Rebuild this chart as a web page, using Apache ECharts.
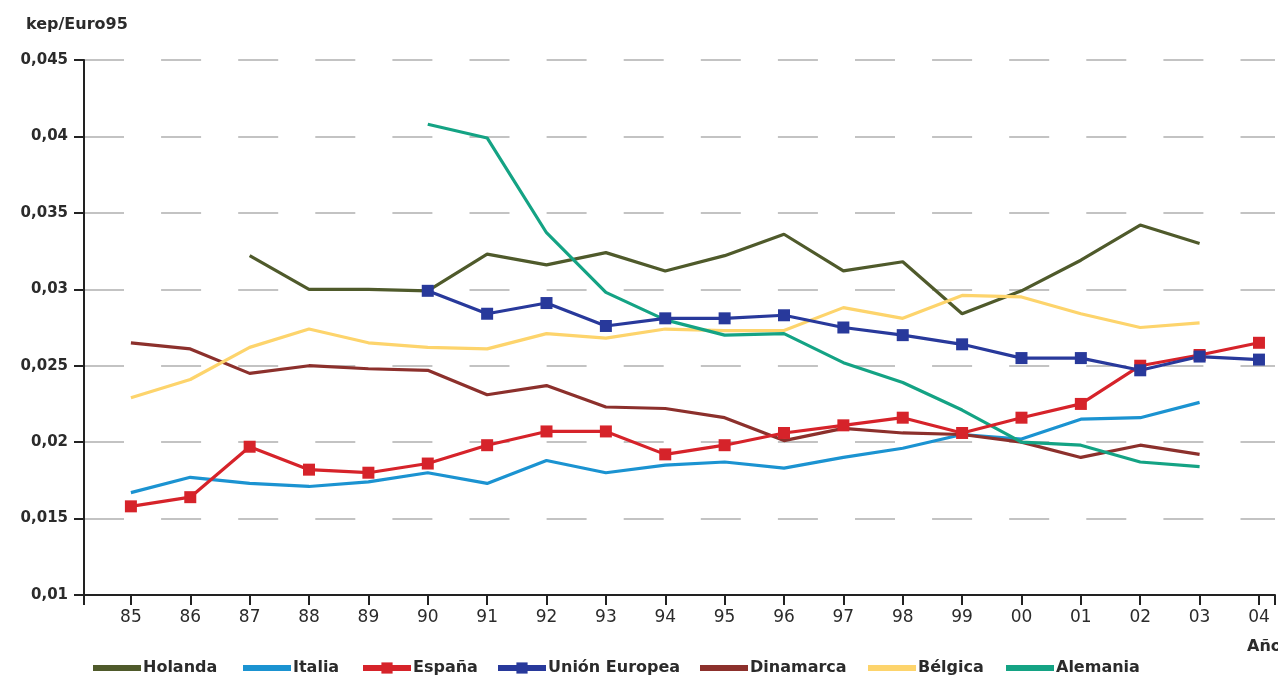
<!DOCTYPE html>
<html>
<head>
<meta charset="utf-8">
<script src="https://cdn.jsdelivr.net/npm/echarts@6/dist/echarts.min.js"></script>
<style>
html,body{margin:0;padding:0;background:#fff;}
#chart{width:1278px;height:681px;}
</style>
</head>
<body>
<div id="chart"></div>
<script>
const years = [1985,1986,1987,1988,1989,1990,1991,1992,1993,1994,1995,1996,1997,1998,1999,2000,2001,2002,2003,2004];
const yearLabels = ['85','86','87','88','89','90','91','92','93','94','95','96','97','98','99','00','01','02','03','04'];

const holanda   = [null,null,0.0322,0.0300,0.0300,0.0299,0.0323,0.0316,0.0324,0.0312,0.0322,0.0336,0.0312,0.0318,0.0284,0.0299,0.0319,0.0342,0.0330,null];
const italia    = [0.0167,0.0177,0.0173,0.0171,0.0174,0.0180,0.0173,0.0188,0.0180,0.0185,0.0187,0.0183,0.0190,0.0196,0.0205,0.0202,0.0215,0.0216,0.0226,null];
const espana    = [0.0158,0.0164,0.0197,0.0182,0.0180,0.0186,0.0198,0.0207,0.0207,0.0192,0.0198,0.0206,0.0211,0.0216,0.0206,0.0216,0.0225,0.0250,0.0257,0.0265];
const unionEur  = [null,null,null,null,null,0.0299,0.0284,0.0291,0.0276,0.0281,0.0281,0.0283,0.0275,0.0270,0.0264,0.0255,0.0255,0.0247,0.0256,0.0254];
const dinamarca = [0.0265,0.0261,0.0245,0.0250,0.0248,0.0247,0.0231,0.0237,0.0223,0.0222,0.0216,0.0201,0.0209,0.0206,0.0205,0.0200,0.0190,0.0198,0.0192,null];
const belgica   = [0.0229,0.0241,0.0262,0.0274,0.0265,0.0262,0.0261,0.0271,0.0268,0.0274,0.0273,0.0273,0.0288,0.0281,0.0296,0.0295,0.0284,0.0275,0.0278,null];
const alemania  = [null,null,null,null,null,0.0408,0.0399,0.0337,0.0298,0.0280,0.0270,0.0271,0.0252,0.0239,0.0221,0.0200,0.0198,0.0187,0.0184,null];

const seriesDefs = [
  {name:'Holanda', data:holanda, color:'#4f5a2b', marker:false, legendLeft:90},
  {name:'Italia', data:italia, color:'#1b93d1', marker:false, legendLeft:240},
  {name:'Dinamarca', data:dinamarca, color:'#8c302c', marker:false, legendLeft:697},
  {name:'Bélgica', data:belgica, color:'#fdd46c', marker:false, legendLeft:865},
  {name:'Alemania', data:alemania, color:'#14a384', marker:false, legendLeft:1003},
  {name:'España', data:espana, color:'#d6232a', marker:true, legendLeft:360},
  {name:'Unión Europea', data:unionEur, color:'#28399b', marker:true, legendLeft:495}
];

const FONT = 'DejaVu Sans';
const TXT = '#2b2b2b';

const chart = echarts.init(document.getElementById('chart'), null, {renderer:'canvas'});

const legends = seriesDefs.map(s => ({
  data:[s.marker ? {name:s.name} : {name:s.name, itemStyle:{opacity:0}}],
  left:s.legendLeft,
  top:660,
  itemWidth:48,
  itemHeight:14,
  itemGap:0,
  padding:0,
  selectedMode:false,
  lineStyle:{width:6},
  textStyle:{fontFamily:FONT, fontWeight:'bold', fontSize:16, color:TXT, padding:[0,0,0,-3]}
}));

const series = seriesDefs.map(s => ({
  name:s.name,
  type:'line',
  data:years.map((y,i)=>[y, s.data[i]]).filter(d=>d[1]!==null),
  symbol:s.marker ? 'rect' : 'none',
  symbolSize:12,
  showSymbol:s.marker,
  lineStyle:{color:s.color, width:3.2},
  itemStyle:{color:s.color},
  emphasis:{disabled:true},
  animation:false
}));

chart.setOption({
  animation:false,
  backgroundColor:'#ffffff',
  title:{
    text:'kep/Euro95', left:21, top:12,
    textStyle:{fontFamily:FONT, fontWeight:'bold', fontSize:16, color:TXT}
  },
  legend:legends,
  graphic:[{
    type:'text', left:1247, top:639,
    style:{text:'Años', fontFamily:FONT, fontWeight:'bold', fontSize:16, fill:TXT}
  }],
  grid:{left:84, right:0, top:60, bottom:86, containLabel:false},
  xAxis:{
    type:'value',
    min:1984.21,
    max:2004.27,
    minInterval:1,
    maxInterval:1,
    axisLine:{show:true, lineStyle:{color:'#222', width:2}},
    axisTick:{show:true, length:10, lineStyle:{color:'#222', width:2}},
    splitLine:{show:false},
    axisLabel:{
      margin:14,
      fontFamily:FONT, fontSize:17, color:TXT,
      formatter:v => {
        const idx = years.indexOf(Math.round(v));
        return (Math.abs(v - Math.round(v)) < 1e-6 && idx >= 0) ? yearLabels[idx] : '';
      }
    }
  },
  yAxis:{
    type:'value',
    min:0.01,
    max:0.045,
    interval:0.005,
    axisLine:{show:true, lineStyle:{color:'#222', width:2}},
    axisTick:{show:true, length:10, lineStyle:{color:'#222', width:2}},
    splitLine:{show:true, lineStyle:{color:'#c3c3c3', width:2, type:[40,37.1]}},
    axisLabel:{
      margin:16,
      fontFamily:FONT, fontWeight:'bold', fontSize:15, color:TXT,
      formatter:v => String(+v.toFixed(3)).replace('.', ',')
    }
  },
  series:series
});
</script>
</body>
</html>
